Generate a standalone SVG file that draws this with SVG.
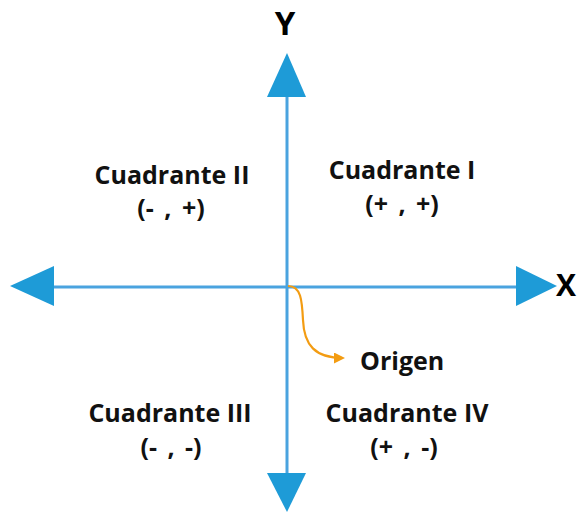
<svg xmlns="http://www.w3.org/2000/svg" width="578" height="514" viewBox="0 0 578 514">
<style>
.t{font-family:"Open Sans","Noto Sans",sans-serif;font-weight:bold;font-size:25px;fill:#111;text-anchor:middle}
.p{word-spacing:4px}
.ax{stroke:#4aa3df;stroke-width:3;fill:none}
.ah{fill:#1e9bd7}
.lbl{font-family:"Open Sans","Noto Sans",sans-serif;font-weight:bold;fill:#000}
</style>
<defs>
<marker id="oa" markerWidth="11" markerHeight="11" refX="9" refY="5.5" orient="auto" markerUnits="userSpaceOnUse"><path d="M0,0 L11,5.5 L0,11 Z" fill="#f39c12"/></marker>
</defs>
<rect width="578" height="514" fill="#fff"/>
<g id="connectors">
<line class="ax" x1="287" y1="95" x2="287" y2="475"/>
<line class="ax" x1="52" y1="287" x2="518" y2="287"/>
<polygon class="ah" points="287,53 267,97 306,97"/>
<polygon class="ah" points="287,512 267,473 306,473"/>
<polygon class="ah" points="10,286 54,266 54,306"/>
<polygon class="ah" points="557,286 516,266 516,306"/>
<path d="M288,286 C301,286 302,300 303,320 C304,345 315,358 343,358" stroke="#f39c12" stroke-width="2.2" fill="none" marker-end="url(#oa)"/>
</g>
<g id="axis-y"><text class="lbl" x="285" y="35" font-size="33" text-anchor="middle">Y</text></g>
<g id="axis-x"><text class="lbl" x="556" y="296" font-size="30">X</text></g>
<g id="q1"><text class="t" x="402" y="179">Cuadrante I</text><text class="t p" x="402" y="213">(+ , +)</text></g>
<g id="q2"><text class="t" x="172" y="184">Cuadrante II</text><text class="t p" x="171" y="217">(- , +)</text></g>
<g id="q3"><text class="t" x="170" y="422">Cuadrante III</text><text class="t p" x="171" y="456">(- , -)</text></g>
<g id="q4"><text class="t" x="407" y="422">Cuadrante IV</text><text class="t p" x="404" y="456">(+ , -)</text></g>
<g id="origen"><text class="t" x="360" y="370" font-size="26" style="text-anchor:start">Origen</text></g>
</svg>
